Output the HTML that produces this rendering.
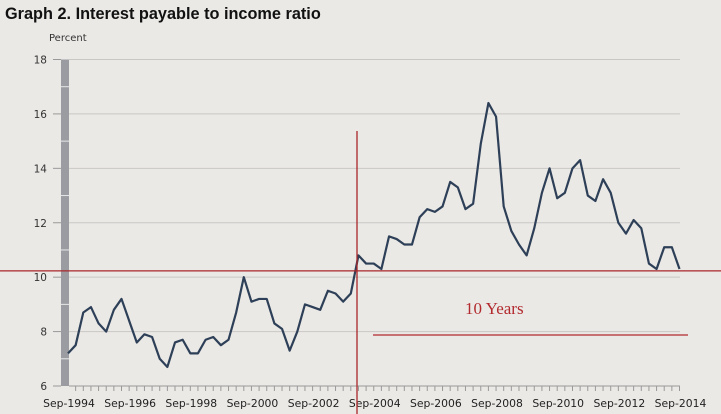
<!DOCTYPE html>
<html><head><meta charset="utf-8"><style>
body{margin:0;background:#ebe9e6;}
svg{display:block;}
</style></head><body>
<svg width="721" height="414" viewBox="0 0 721 414" id="chart">
<rect x="0" y="0" width="721" height="414" fill="#ebe9e6"/>
<text x="5" y="19" font-family="Liberation Sans, sans-serif" font-weight="bold" font-size="16.3" fill="#111">Graph 2. Interest payable to income ratio</text>
<text x="49" y="41" font-family="DejaVu Sans, sans-serif" font-size="10" fill="#333">Percent</text>
<g id="grid"></g>
<g id="marks"></g>
</svg>
<script>
const yTicks=[6,8,10,12,14,16,18];
const xLabels=["Sep-1994","Sep-1996","Sep-1998","Sep-2000","Sep-2002","Sep-2004","Sep-2006","Sep-2008","Sep-2010","Sep-2012","Sep-2014"];
const values=[7.2,7.5,8.7,8.9,8.3,8.0,8.8,9.2,8.4,7.6,7.9,7.8,7.0,6.7,7.6,7.7,7.2,7.2,7.7,7.8,7.5,7.7,8.7,10.0,9.1,9.2,9.2,8.3,8.1,7.3,8.0,9.0,8.9,8.8,9.5,9.4,9.1,9.4,10.8,10.5,10.5,10.3,11.5,11.4,11.2,11.2,12.2,12.5,12.4,12.6,13.5,13.3,12.5,12.7,14.9,16.4,15.9,12.6,11.7,11.2,10.8,11.8,13.1,14.0,12.9,13.1,14.0,14.3,13.0,12.8,13.6,13.1,12.0,11.6,12.1,11.8,10.5,10.3,11.1,11.1,10.3];
const refLevel=[10.23];
const NS="http://www.w3.org/2000/svg";
const X0=68,X1=679.5,Y0=386,Y1=59.5,YMIN=6,YMAX=18;
const xs=i=>X0+(X1-X0)*i/(values.length-1);
const ys=v=>Y0-(Y0-Y1)*(v-YMIN)/(YMAX-YMIN);
function mk(t,a,p){const e=document.createElementNS(NS,t);for(const k in a)e.setAttribute(k,a[k]);p.appendChild(e);return e;}
const grid=document.getElementById('grid'),marks=document.getElementById('marks');
yTicks.forEach(v=>{
  const g=mk('line',{x1:69,x2:680,y1:ys(v),y2:ys(v),stroke:v===6?'#999':'#c9c7c4','stroke-width':1},grid);
  
  
  const tk=mk('line',{x1:53,x2:61,y1:ys(v),y2:ys(v),stroke:'#999'},grid);
  
  
  const t=mk('text',{x:47,y:ys(v)+4,'text-anchor':'end','font-family':'DejaVu Sans, sans-serif','font-size':'10.5',fill:'#333'},grid);
  t.textContent=v;
  
  
});
const bar=mk('rect',{x:61,y:Y1,width:8,height:Y0-Y1,fill:'#9a9ca1'},grid);


for(let v=7;v<18;v+=1){if(v%2===1){const w=mk('line',{x1:61,x2:69,y1:ys(v),y2:ys(v),stroke:'#e8e8e8'},grid);}}
for(let i=1;i<values.length;i++){
  const tk=mk('line',{x1:xs(i),x2:xs(i),y1:Y0,y2:Y0+5,stroke:'#999'},grid);
  
  
}
xLabels.forEach((l,i)=>{
  const t=mk('text',{x:xs(i*8)+1,y:407,'text-anchor':'middle','font-family':'DejaVu Sans, sans-serif','font-size':'10.8',fill:'#222'},grid);
  t.textContent=l;
  
  
});
const line=mk('polyline',{points:values.map((v,i)=>xs(i)+','+ys(v)).join(' '),fill:'none',stroke:'#2e4058','stroke-width':2.2,'stroke-linejoin':'round'},marks);


const h=mk('line',{x1:0,x2:721,y1:ys(refLevel[0]),y2:ys(refLevel[0]),stroke:'#a8262a','stroke-width':1.3},marks);


const vl=mk('line',{x1:357,x2:357,y1:131,y2:414,stroke:'#a8262a','stroke-width':1.3},marks);


const h2=mk('line',{x1:373,x2:688,y1:335,y2:335,stroke:'#b22a2e','stroke-width':1.3},marks);


const ty=mk('text',{x:465,y:314,'font-family':'Liberation Serif, serif','font-size':'17',fill:'#b22a2e'},marks);
ty.textContent='10 Years';


</script>
</body></html>
